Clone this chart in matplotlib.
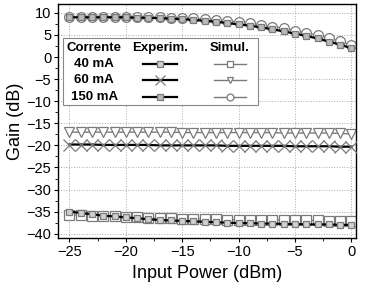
import numpy as np
import matplotlib.pyplot as plt
from matplotlib.lines import Line2D
from matplotlib.patches import Rectangle

plt.rcParams['font.family'] = ['Liberation Sans', 'DejaVu Sans']

potencia = np.arange(-25, 1, 1)  # dBm

exp_40 = [-35.0, -35.3, -35.6, -35.9, -36.1, -36.3, -36.5, -36.7, -36.9, -37.0,
          -37.1, -37.2, -37.3, -37.4, -37.5, -37.6, -37.6, -37.7, -37.7, -37.8,
          -37.8, -37.9, -37.9, -37.9, -38.0, -38.0]
sim_40 = [-35.7, -35.8, -35.9, -36.0, -36.1, -36.2, -36.3, -36.4, -36.5, -36.5,
          -36.6, -36.6, -36.7, -36.7, -36.8, -36.8, -36.8, -36.9, -36.9, -36.9,
          -37.0, -37.0, -37.0, -37.1, -37.1, -37.2]
exp_60 = [-19.8, -19.8, -19.8, -19.9, -19.9, -19.9, -19.9, -19.9, -20.0, -20.0,
          -20.0, -20.0, -20.0, -20.0, -20.1, -20.1, -20.1, -20.1, -20.1, -20.1,
          -20.2, -20.2, -20.2, -20.2, -20.3, -20.3]
sim_60 = [-17.0, -17.0, -17.0, -17.0, -17.0, -17.0, -17.0, -17.0, -17.0, -17.0,
          -17.1, -17.1, -17.1, -17.1, -17.1, -17.1, -17.1, -17.1, -17.1, -17.2,
          -17.2, -17.2, -17.2, -17.2, -17.3, -17.4]
exp_150 = [9.0, 9.0, 9.0, 9.0, 9.0, 9.0, 8.9, 8.9, 8.8, 8.7, 8.6, 8.4, 8.2,
           8.0, 7.7, 7.4, 7.1, 6.7, 6.3, 5.8, 5.3, 4.8, 4.2, 3.5, 2.8, 2.0]
sim_150 = [9.1, 9.1, 9.1, 9.1, 9.1, 9.0, 9.0, 9.0, 9.0, 8.9, 8.9, 8.8, 8.6,
           8.4, 8.2, 7.9, 7.6, 7.3, 6.9, 6.5, 6.0, 5.5, 4.9, 4.3, 3.6, 2.7]

correntes = ["40 mA", "60 mA", "150 mA"]
cinza = "#7a7a7a"

fig = plt.figure(figsize=(3.68, 2.89), dpi=100)
ax = fig.add_axes([0.158, 0.176, 0.809, 0.81])

# experimental: linha preta, marcadores cinza
marc_exp = ["s", "x", "s"]
fundo_exp = ["#d0d0d0", "none", "#bbbbbb"]
tam_exp = [5, 8, 5]
marc_sim = ["s", "v", "o"]
tam_sim = [6.5, 7, 7]
for y, m, f, t in zip([exp_40, exp_60, exp_150], marc_exp, fundo_exp, tam_exp):
    ax.plot(potencia, y, color="black", lw=1.6, marker=m, ms=t, mfc=f, mec=cinza, mew=0.9, zorder=3)
for y, m, t in zip([sim_40, sim_60, sim_150], marc_sim, tam_sim):
    ax.plot(potencia, y, color=cinza, lw=1.0, marker=m, ms=t, mfc="white", mec=cinza, mew=0.9, zorder=2)

ax.set_xlim(-26, 0.4)
ax.set_ylim(-41, 12)
ax.set_xticks(np.arange(-25, 1, 5))
ax.set_yticks(np.arange(-40, 11, 5))
ax.set_xticks(np.arange(-22.5, 0, 5), minor=True)
ax.set_yticks(np.arange(-37.5, 11, 5), minor=True)
ax.tick_params(direction="out", labelsize=10.5, width=0.8, length=3, pad=2)
ax.tick_params(which="minor", direction="out", length=2, width=0.6)
ax.grid(True, ls=":", color="#aaaaaa", lw=0.7)
ax.set_xlabel("Input Power (dBm)", fontsize=13, labelpad=4)
ax.set_ylabel("Gain (dB)", fontsize=13, labelpad=2)
for s in ax.spines.values():
    s.set_linewidth(1.0)

# legenda em forma de tabela
ax.add_patch(Rectangle((0.017, 0.568), 0.654, 0.287, transform=ax.transAxes,
                       facecolor="white", edgecolor="#888888", lw=0.8, zorder=5))
linhas_y = [0.744, 0.675, 0.603]
kw = dict(transform=ax.transAxes, fontsize=9.5, fontweight="bold", ha="center", va="center", zorder=6)
ax.text(0.121, 0.812, "Corrente", **kw)
ax.text(0.342, 0.812, "Experim.", **kw)
ax.text(0.577, 0.812, "Simul.", **kw)
for i, (nome, yy) in enumerate(zip(correntes, linhas_y)):
    ax.text(0.121, yy, nome, **kw)
    ax.add_line(Line2D([0.285, 0.3425, 0.40], [yy, yy, yy], transform=ax.transAxes, color="black",
                       lw=1.6, marker=marc_exp[i], ms=5 if i != 1 else 7, mfc=fundo_exp[i], mec=cinza,
                       mew=0.9, markevery=[1], zorder=6))
    ax.add_line(Line2D([0.523, 0.577, 0.631], [yy, yy, yy], transform=ax.transAxes, color=cinza,
                       lw=1.0, marker=marc_sim[i], ms=5, mfc="white", mec=cinza, mew=0.9,
                       markevery=[1], zorder=6))

fig.savefig("out.png", dpi=100)
